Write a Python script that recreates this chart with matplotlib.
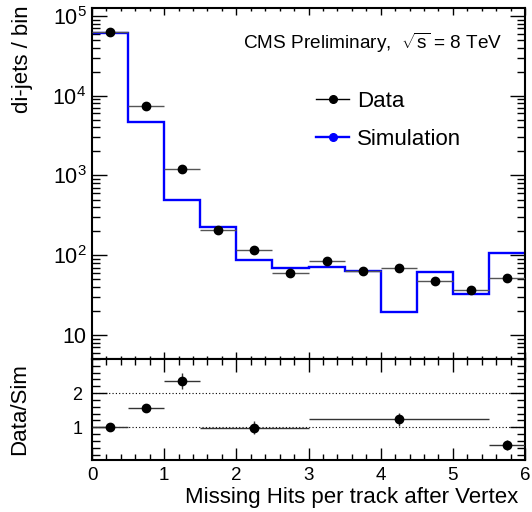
import numpy as np
import matplotlib
matplotlib.use("Agg")
import matplotlib.pyplot as plt
from matplotlib.ticker import FixedLocator, MultipleLocator, FuncFormatter, LogLocator, NullFormatter
from matplotlib.lines import Line2D

plt.rcParams["font.family"] = ["Liberation Sans", "DejaVu Sans"]
plt.rcParams["mathtext.fontset"] = "custom"
plt.rcParams["mathtext.rm"] = "Liberation Sans"
plt.rcParams["mathtext.it"] = "Liberation Sans:italic"
plt.rcParams["mathtext.bf"] = "Liberation Sans:bold"

# Missing hits per track, 0.5-wide bins
bin_edges = [0.0, 0.5, 1.0, 1.5, 2.0, 2.5, 3.0, 3.5, 4.0, 4.5, 5.0, 5.5, 6.0]
data_counts = [63000, 7500, 1190, 205, 115, 60, 84, 63, 69, 47, 36.5, 51.6]
sim_counts = [62000, 4730, 500, 224, 87, 69, 71, 63, 19.4, 61, 32.5, 106]

# Data/Sim ratio in merged bins
ratio_edges = [0.0, 0.5, 1.0, 1.5, 3.0, 5.5, 6.0]
ratio_values = [1.0, 1.57, 2.35, 0.99, 1.23, 0.49]
ratio_errors = [0.03, 0.08, 0.24, 0.2, 0.19, 0.15]

blue = "#0000ff"
edge_lw = 1.5

fig = plt.figure(figsize=(5.32, 5.12), dpi=100)
left, width = 92 / 532, 433 / 532
ax = fig.add_axes([left, 1 - 359 / 512, width, 351 / 512])
rax = fig.add_axes([left, 1 - 460 / 512, width, 101 / 512])

# ---- upper panel: distributions ----
edges = np.asarray(bin_edges)
centers = 0.5 * (edges[:-1] + edges[1:])
halfw = 0.5 * np.diff(edges)

ax.stairs(sim_counts, edges, color=blue, lw=1.7, baseline=None, zorder=2)
ax.errorbar(centers, data_counts, xerr=halfw, fmt="o", color="black",
            ecolor="#555555", elinewidth=1.0, ms=6, capsize=0, zorder=3)

ax.set_yscale("log")
ax.set_xlim(0, 6)
ax.set_ylim(5.0, 1.26e5)


def log_label(v, pos):
    n = int(round(np.log10(v)))
    if n == 1:
        return "10"
    return r"$10^{%d}$" % n


ax.yaxis.set_major_locator(FixedLocator([10, 100, 1e3, 1e4, 1e5]))
ax.yaxis.set_major_formatter(FuncFormatter(log_label))
ax.yaxis.set_minor_locator(LogLocator(base=10, subs=np.arange(2, 10), numticks=20))
ax.yaxis.set_minor_formatter(NullFormatter())
ax.xaxis.set_major_locator(MultipleLocator(1))
ax.xaxis.set_minor_locator(MultipleLocator(0.2))
ax.tick_params(axis="x", which="both", labelbottom=False)
ax.tick_params(which="both", direction="in", top=True, right=True, width=1.0)
ax.tick_params(axis="y", which="major", length=11, labelsize=15.5, pad=4)
ax.tick_params(axis="y", which="minor", length=5.5)
ax.tick_params(axis="x", which="major", length=5)
ax.tick_params(axis="x", which="minor", length=2.5)
for s in ax.spines.values():
    s.set_linewidth(edge_lw)

ax.set_ylabel("di-jets / bin", fontsize=16, loc="top")
ax.yaxis.set_label_coords((33 - 92) / 433, 1.0085)

ax.text(0.949, 0.90, r"CMS Preliminary,  $\sqrt{\mathrm{s}}$ = 8 TeV", transform=ax.transAxes,
        ha="right", va="center", fontsize=13.7)

handles = [
    Line2D([], [], color="black", marker="o", ms=5.5, lw=1.0),
    Line2D([], [], color=blue, marker="o", ms=5.5, lw=1.7),
]
ax.legend(handles, ["Data", "Simulation"], loc="upper left",
          bbox_to_anchor=((316 - 92) / 433, (359 - 91) / 351), frameon=False, fontsize=16,
          handlelength=1.5, handletextpad=0.35, labelspacing=0.75,
          borderaxespad=0, borderpad=0)

# ---- lower panel: ratio ----
redges = np.asarray(ratio_edges)
rcenters = 0.5 * (redges[:-1] + redges[1:])
rhalfw = 0.5 * np.diff(redges)

for yref in (1.0, 2.0):
    rax.axhline(yref, color="black", lw=0.8, ls=(0, (1, 2)), zorder=1)
rax.errorbar(rcenters, ratio_values, xerr=rhalfw, yerr=ratio_errors, fmt="o",
             color="black", ecolor="#333333", elinewidth=1.0, ms=6, capsize=0, zorder=3)

rax.set_xlim(0, 6)
rax.set_ylim(0.04, 3.0)
rax.yaxis.set_major_locator(FixedLocator([1, 2]))
rax.yaxis.set_minor_locator(MultipleLocator(0.2))
rax.xaxis.set_major_locator(MultipleLocator(1))
rax.xaxis.set_minor_locator(MultipleLocator(0.2))
rax.tick_params(which="both", direction="in", top=True, right=True, width=1.0)
rax.tick_params(axis="y", which="major", length=11, labelsize=13, pad=7)
rax.tick_params(axis="y", which="minor", length=5.5)
rax.tick_params(axis="x", which="major", length=9, labelsize=13.5, pad=5)
rax.tick_params(axis="x", which="minor", length=4.5)
for s in rax.spines.values():
    s.set_linewidth(edge_lw)

rax.set_ylabel("Data/Sim", fontsize=16)
rax.yaxis.set_label_coords((30 - 92) / 433, 0.5)
rax.set_xlabel("Missing Hits per track after Vertex", fontsize=16, loc="right")
rax.xaxis.set_label_coords((518 - 92) / 433, -0.27)

fig.savefig("out.png", dpi=100)
